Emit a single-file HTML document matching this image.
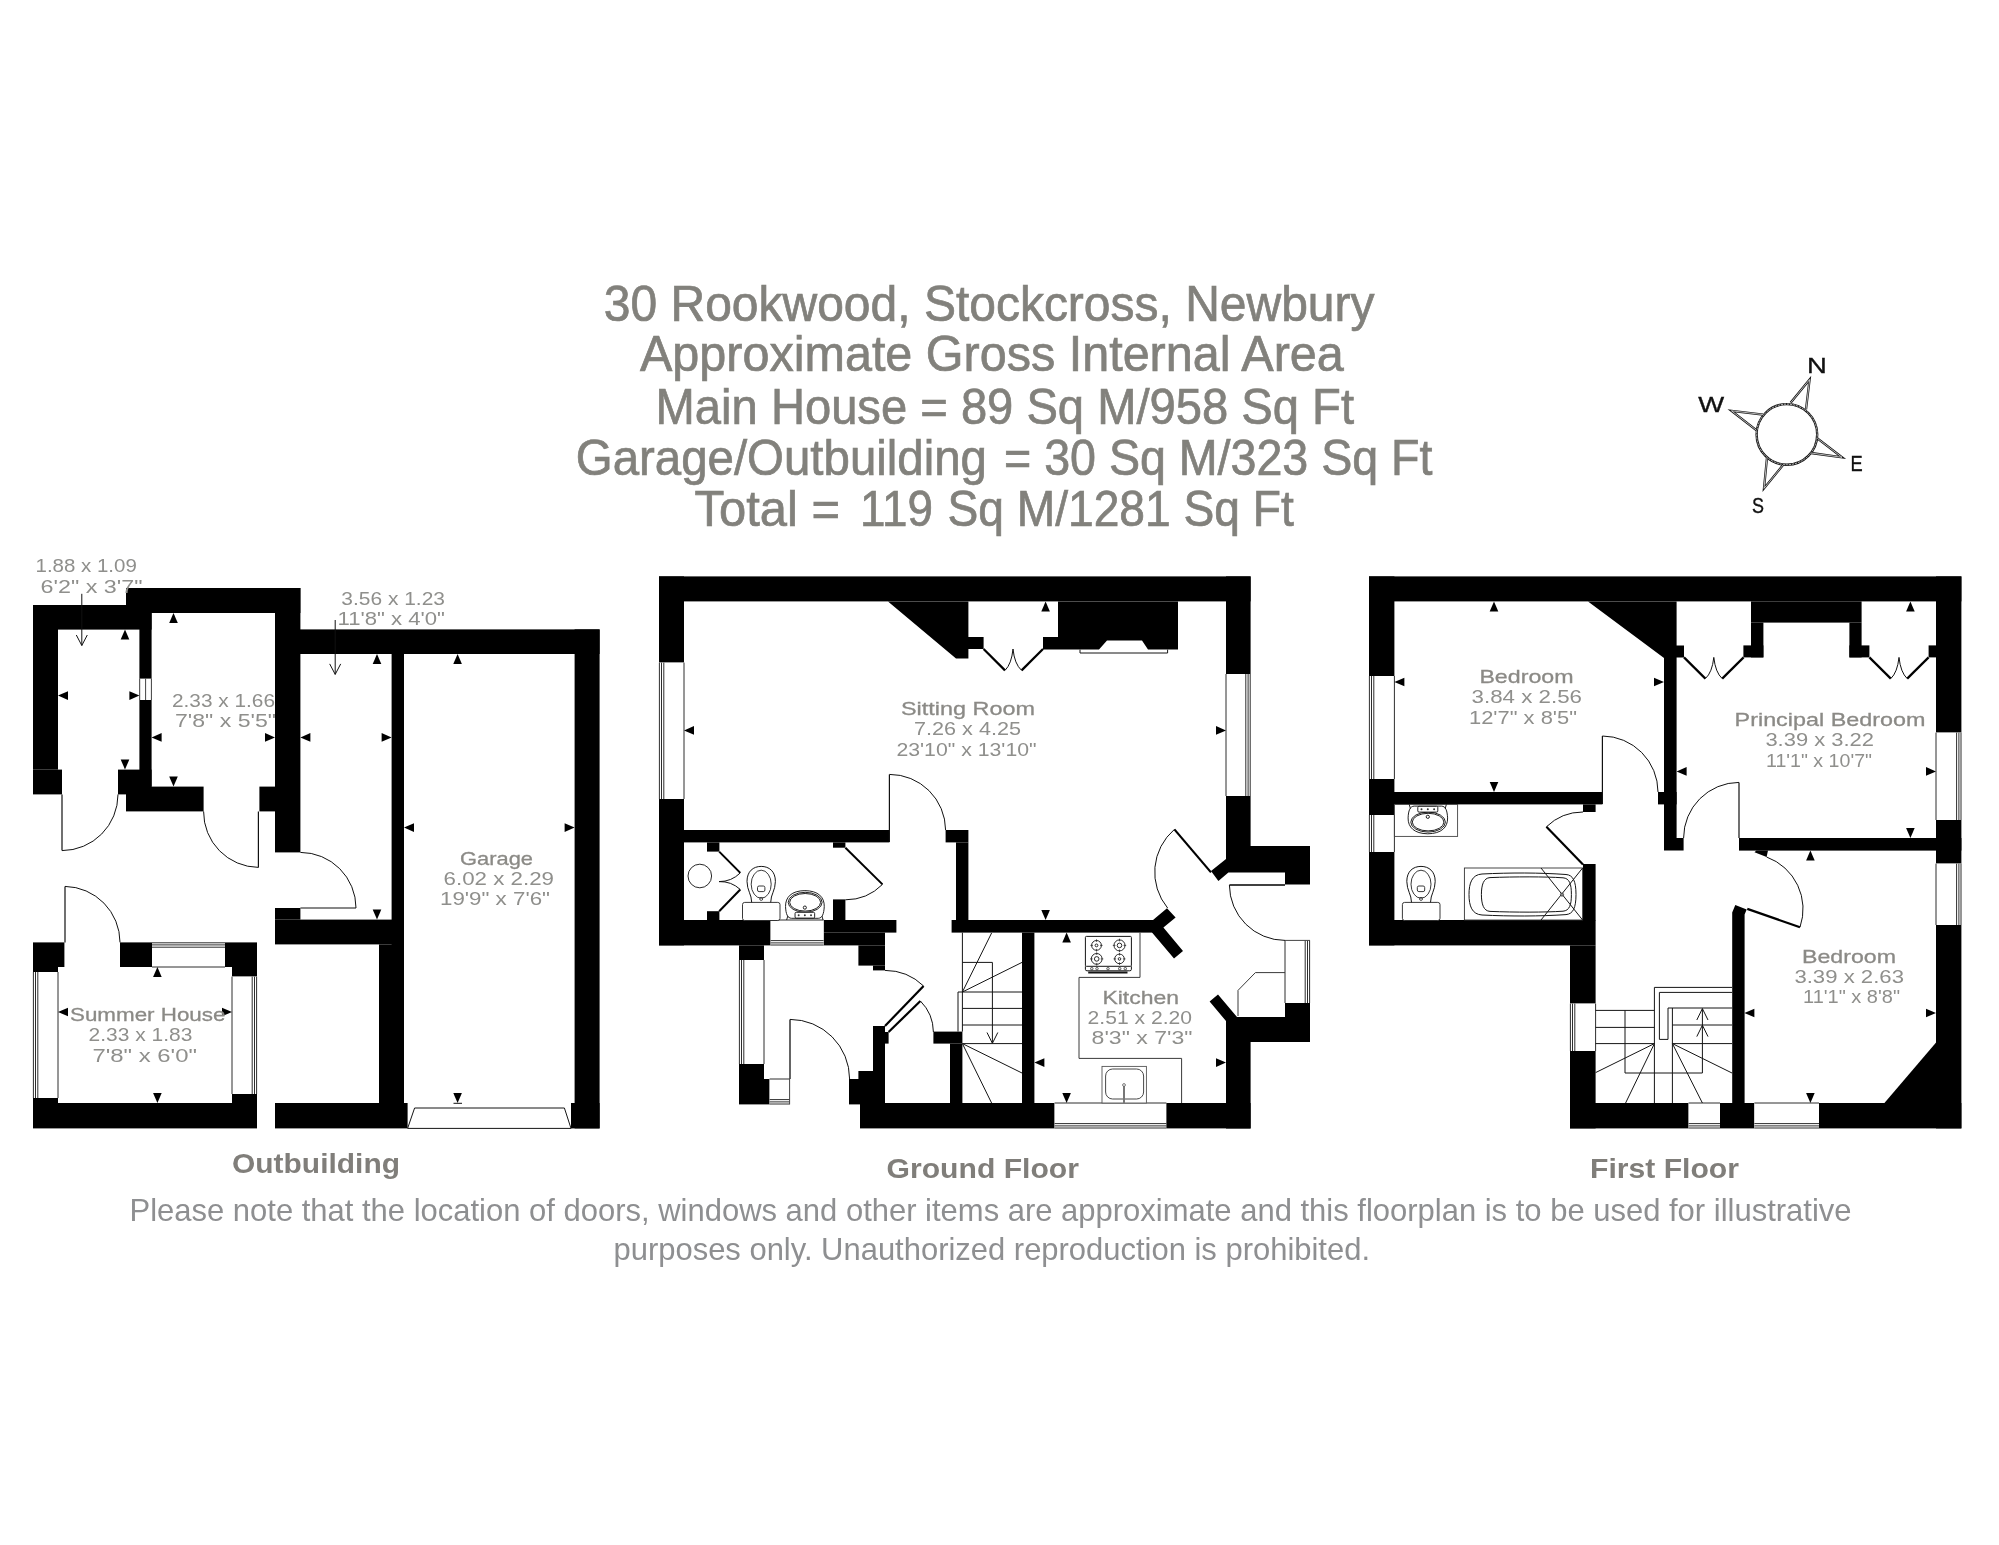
<!DOCTYPE html>
<html lang="en"><head><meta charset="utf-8"><title>30 Rookwood, Stockcross, Newbury - Floorplan</title>
<style>
html,body{margin:0;padding:0;background:#fff;}
body{width:1999px;height:1545px;overflow:hidden;}
svg{display:block;font-family:"Liberation Sans",sans-serif;will-change:transform;}
.t{font-size:49.5px;fill:#82817c;stroke:#82817c;stroke-width:0.7px;}
.lb{font-size:19px;fill:#8b8a86;stroke:#8b8a86;stroke-width:0.3px;}
.nm{font-size:18.4px;fill:#8f8f8c;}
.fl{font-size:27.6px;font-weight:bold;fill:#807e7a;}
.ft{font-size:31.4px;fill:#8e8f91;}
.cp{font-size:22.8px;fill:#111;stroke:#111;stroke-width:0.35px;}
</style></head><body>
<svg width="1999" height="1545" viewBox="0 0 1999 1545">
<rect x="0" y="0" width="1999" height="1545" fill="#fff"/>
<text x="603.8" y="321.3" textLength="770.7" lengthAdjust="spacingAndGlyphs" class="t">30 Rookwood, Stockcross, Newbury</text>
<text x="640.0" y="371.3" textLength="703.8" lengthAdjust="spacingAndGlyphs" class="t">Approximate Gross Internal Area</text>
<text x="655.6" y="423.8" textLength="698.4" lengthAdjust="spacingAndGlyphs" class="t">Main House = 89 Sq M/958 Sq Ft</text>
<text x="575.8" y="475.0" textLength="411.2" lengthAdjust="spacingAndGlyphs" class="t">Garage/Outbuilding</text>
<text x="1004.0" y="475.0" textLength="428.5" lengthAdjust="spacingAndGlyphs" class="t">= 30 Sq M/323 Sq Ft</text>
<text x="694.5" y="525.5" textLength="145.5" lengthAdjust="spacingAndGlyphs" class="t">Total =</text>
<text x="860.0" y="525.5" textLength="73.0" lengthAdjust="spacingAndGlyphs" class="t">119</text>
<text x="947.5" y="525.5" textLength="346.3" lengthAdjust="spacingAndGlyphs" class="t">Sq M/1281 Sq Ft</text>
<text x="232.0" y="1173.0" textLength="168.0" lengthAdjust="spacingAndGlyphs" class="fl">Outbuilding</text>
<text x="886.5" y="1177.5" textLength="192.5" lengthAdjust="spacingAndGlyphs" class="fl">Ground Floor</text>
<text x="1590.0" y="1177.5" textLength="149.0" lengthAdjust="spacingAndGlyphs" class="fl">First Floor</text>
<text x="129.5" y="1220.8" textLength="1722.0" lengthAdjust="spacingAndGlyphs" class="ft">Please note that the location of doors, windows and other items are approximate and this floorplan is to be used for illustrative</text>
<text x="613.5" y="1260.0" textLength="756.5" lengthAdjust="spacingAndGlyphs" class="ft">purposes only. Unauthorized reproduction is prohibited.</text>
<rect x="33.0" y="605.0" width="118.6" height="24.6" fill="#000"/>
<rect x="126.0" y="588.0" width="174.4" height="25.0" fill="#000"/>
<rect x="33.0" y="605.0" width="25.0" height="164.6" fill="#000"/>
<rect x="33.0" y="769.6" width="29.0" height="24.8" fill="#000"/>
<rect x="139.4" y="613.0" width="12.2" height="173.6" fill="#000"/>
<rect x="118.0" y="769.6" width="33.6" height="24.8" fill="#000"/>
<rect x="126.0" y="786.6" width="77.6" height="24.8" fill="#000"/>
<rect x="275.0" y="588.0" width="25.4" height="264.4" fill="#000"/>
<rect x="259.4" y="786.6" width="40.6" height="24.8" fill="#000"/>
<rect x="275.0" y="629.4" width="324.6" height="24.6" fill="#000"/>
<rect x="574.6" y="629.4" width="25.0" height="499.0" fill="#000"/>
<rect x="391.6" y="654.0" width="12.4" height="296.0" fill="#000"/>
<rect x="275.0" y="908.0" width="25.4" height="11.6" fill="#000"/>
<rect x="275.0" y="919.6" width="129.0" height="24.8" fill="#000"/>
<rect x="379.0" y="944.4" width="25.0" height="158.6" fill="#000"/>
<rect x="275.0" y="1103.0" width="132.6" height="25.4" fill="#000"/>
<rect x="571.0" y="1103.0" width="28.6" height="25.4" fill="#000"/>
<rect x="139.4" y="678.6" width="12.2" height="21.4" fill="#fff"/>
<line x1="139.7" y1="678.6" x2="139.7" y2="700.0" stroke="#444" stroke-width="1.0"/>
<line x1="145.6" y1="678.6" x2="145.6" y2="700.0" stroke="#444" stroke-width="1.0"/>
<line x1="151.4" y1="678.6" x2="151.4" y2="700.0" stroke="#444" stroke-width="1.0"/>
<path d="M407.6,1128.4 L414.6,1108 L564.4,1108 L571,1128.4 Z" fill="none" stroke="#151515" stroke-width="1.0" />
<path d="M62,794.4 L62,850.6" fill="none" stroke="#111" stroke-width="1.2" />
<path d="M62,850.6 A56.2,56.2 0 0 0 118,794.4" fill="none" stroke="#111" stroke-width="1.0" />
<path d="M258.4,811.4 L258.4,867.4" fill="none" stroke="#111" stroke-width="1.2" />
<path d="M258.4,867.4 A55.5,55.5 0 0 1 203.6,811.4" fill="none" stroke="#111" stroke-width="1.0" />
<path d="M300.4,908 L356,908" fill="none" stroke="#111" stroke-width="1.2" />
<path d="M300.4,852.4 A55.6,55.6 0 0 1 356,908" fill="none" stroke="#111" stroke-width="1.0" />
<rect x="33.0" y="942.4" width="31.4" height="24.6" fill="#000"/>
<rect x="33.0" y="967.0" width="25.0" height="5.0" fill="#000"/>
<rect x="120.0" y="942.4" width="32.0" height="24.6" fill="#000"/>
<rect x="225.0" y="942.4" width="32.0" height="24.6" fill="#000"/>
<rect x="232.0" y="967.0" width="25.0" height="9.6" fill="#000"/>
<rect x="33.0" y="1103.0" width="224.0" height="25.4" fill="#000"/>
<rect x="33.0" y="1098.0" width="25.0" height="5.0" fill="#000"/>
<rect x="232.0" y="1094.0" width="25.0" height="9.0" fill="#000"/>
<rect x="33.0" y="972.0" width="25.0" height="126.0" fill="#fff"/>
<line x1="33.4" y1="972.0" x2="33.4" y2="1098.0" stroke="#2e2e2e" stroke-width="1.0"/>
<line x1="35.5" y1="972.0" x2="35.5" y2="1098.0" stroke="#2e2e2e" stroke-width="1.0"/>
<line x1="37.8" y1="972.0" x2="37.8" y2="1098.0" stroke="#2e2e2e" stroke-width="1.0"/>
<line x1="58.0" y1="972.0" x2="58.0" y2="1098.0" stroke="#2e2e2e" stroke-width="1.0"/>
<rect x="232.0" y="976.6" width="25.0" height="117.4" fill="#fff"/>
<line x1="256.6" y1="976.6" x2="256.6" y2="1094.0" stroke="#2e2e2e" stroke-width="1.0"/>
<line x1="254.5" y1="976.6" x2="254.5" y2="1094.0" stroke="#2e2e2e" stroke-width="1.0"/>
<line x1="252.2" y1="976.6" x2="252.2" y2="1094.0" stroke="#2e2e2e" stroke-width="1.0"/>
<line x1="232.0" y1="976.6" x2="232.0" y2="1094.0" stroke="#2e2e2e" stroke-width="1.0"/>
<rect x="152.0" y="942.4" width="73.0" height="24.6" fill="#fff"/>
<line x1="152.0" y1="942.8" x2="225.0" y2="942.8" stroke="#2e2e2e" stroke-width="1.0"/>
<line x1="152.0" y1="944.9" x2="225.0" y2="944.9" stroke="#2e2e2e" stroke-width="1.0"/>
<line x1="152.0" y1="947.2" x2="225.0" y2="947.2" stroke="#2e2e2e" stroke-width="1.0"/>
<line x1="152.0" y1="967.0" x2="225.0" y2="967.0" stroke="#2e2e2e" stroke-width="1.0"/>
<path d="M65,942.4 L65,886.4" fill="none" stroke="#111" stroke-width="1.2" />
<path d="M65,886.4 A56,56 0 0 1 120,942.4" fill="none" stroke="#111" stroke-width="1.0" />
<line x1="81.8" y1="593.8" x2="81.8" y2="645.5" stroke="#111" stroke-width="1"/>
<path d="M76.3,635.0 L81.8,645.5 L87.3,635.0" fill="none" stroke="#111" stroke-width="1" />
<line x1="335.2" y1="620.0" x2="335.2" y2="674.4" stroke="#111" stroke-width="1"/>
<path d="M329.7,663.9 L335.2,674.4 L340.7,663.9" fill="none" stroke="#111" stroke-width="1" />
<polygon points="125.0,629.6 120.7,639.6 129.3,639.6" fill="#000"/>
<polygon points="58.0,695.6 68.0,691.3 68.0,699.9" fill="#000"/>
<polygon points="139.4,695.6 129.4,691.3 129.4,699.9" fill="#000"/>
<polygon points="125.0,769.6 120.7,759.6 129.3,759.6" fill="#000"/>
<polygon points="173.5,613.0 169.2,623.0 177.8,623.0" fill="#000"/>
<polygon points="173.5,786.6 169.2,776.6 177.8,776.6" fill="#000"/>
<polygon points="151.6,737.4 161.6,733.1 161.6,741.7" fill="#000"/>
<polygon points="275.0,737.4 265.0,733.1 265.0,741.7" fill="#000"/>
<polygon points="377.0,654.0 372.7,664.0 381.3,664.0" fill="#000"/>
<polygon points="300.4,737.4 310.4,733.1 310.4,741.7" fill="#000"/>
<polygon points="391.6,737.4 381.6,733.1 381.6,741.7" fill="#000"/>
<polygon points="377.0,919.6 372.7,909.6 381.3,909.6" fill="#000"/>
<polygon points="457.6,654.0 453.3,664.0 461.9,664.0" fill="#000"/>
<polygon points="404.0,827.6 414.0,823.3 414.0,831.9" fill="#000"/>
<polygon points="574.6,827.6 564.6,823.3 564.6,831.9" fill="#000"/>
<polygon points="457.6,1103.0 453.3,1093.0 461.9,1093.0" fill="#000"/>
<line x1="453.5" y1="1103.3" x2="462.0" y2="1103.3" stroke="#111" stroke-width="1.0"/>
<polygon points="157.4,967.0 153.1,977.0 161.7,977.0" fill="#000"/>
<polygon points="157.4,1103.0 153.1,1093.0 161.7,1093.0" fill="#000"/>
<polygon points="58.0,1012.0 68.0,1007.7 68.0,1016.3" fill="#000"/>
<polygon points="232.0,1012.0 222.0,1007.7 222.0,1016.3" fill="#000"/>
<text x="35.5" y="572.0" textLength="101.3" lengthAdjust="spacingAndGlyphs" class="nm">1.88 x 1.09</text>
<text x="40.5" y="592.5" textLength="102.0" lengthAdjust="spacingAndGlyphs" class="nm">6'2" x 3'7"</text>
<text x="341.3" y="604.5" textLength="103.7" lengthAdjust="spacingAndGlyphs" class="nm">3.56 x 1.23</text>
<text x="337.5" y="624.5" textLength="107.5" lengthAdjust="spacingAndGlyphs" class="nm">11'8" x 4'0"</text>
<text x="172.0" y="706.6" textLength="103.0" lengthAdjust="spacingAndGlyphs" class="nm">2.33 x 1.66</text>
<text x="175.0" y="726.6" textLength="101.0" lengthAdjust="spacingAndGlyphs" class="nm">7'8" x 5'5"</text>
<text x="70.0" y="1021.0" textLength="155.4" lengthAdjust="spacingAndGlyphs" class="lb">Summer House</text>
<text x="88.6" y="1041.0" textLength="103.8" lengthAdjust="spacingAndGlyphs" class="nm">2.33 x 1.83</text>
<text x="92.4" y="1061.6" textLength="104.6" lengthAdjust="spacingAndGlyphs" class="nm">7'8" x 6'0"</text>
<text x="460.0" y="865.0" textLength="73.0" lengthAdjust="spacingAndGlyphs" class="lb">Garage</text>
<text x="443.6" y="885.0" textLength="110.4" lengthAdjust="spacingAndGlyphs" class="nm">6.02 x 2.29</text>
<text x="440.0" y="905.0" textLength="110.0" lengthAdjust="spacingAndGlyphs" class="nm">19'9" x 7'6"</text>
<rect x="659.0" y="576.4" width="591.6" height="25.0" fill="#000"/>
<rect x="659.0" y="576.4" width="25.0" height="86.2" fill="#000"/>
<rect x="659.0" y="662.6" width="25.0" height="136.4" fill="#fff"/>
<line x1="659.4" y1="662.6" x2="659.4" y2="799.0" stroke="#2e2e2e" stroke-width="1.0"/>
<line x1="661.5" y1="662.6" x2="661.5" y2="799.0" stroke="#2e2e2e" stroke-width="1.0"/>
<line x1="663.8" y1="662.6" x2="663.8" y2="799.0" stroke="#2e2e2e" stroke-width="1.0"/>
<line x1="684.0" y1="662.6" x2="684.0" y2="799.0" stroke="#2e2e2e" stroke-width="1.0"/>
<rect x="659.0" y="799.0" width="25.0" height="146.4" fill="#000"/>
<polygon points="888.0,601.4 968.4,601.4 968.4,637.0 983.6,637.0 983.6,649.0 968.4,649.0 968.4,658.4 956.0,658.4" fill="#000"/>
<polygon points="1043.0,637.0 1058.0,637.0 1058.0,601.4 1178.0,601.4 1178.0,649.6 1148.0,649.6 1142.0,640.6 1107.0,640.6 1099.0,649.6 1043.0,649.6" fill="#000"/>
<path d="M1080,649.6 L1080,653 L1167.6,653 L1167.6,649.6" fill="none" stroke="#151515" stroke-width="1.0" />
<rect x="1226.0" y="576.4" width="24.6" height="97.6" fill="#000"/>
<rect x="1226.0" y="674.0" width="24.6" height="122.0" fill="#fff"/>
<line x1="1250.2" y1="674.0" x2="1250.2" y2="796.0" stroke="#2e2e2e" stroke-width="1.0"/>
<line x1="1248.1" y1="674.0" x2="1248.1" y2="796.0" stroke="#2e2e2e" stroke-width="1.0"/>
<line x1="1245.8" y1="674.0" x2="1245.8" y2="796.0" stroke="#2e2e2e" stroke-width="1.0"/>
<line x1="1226.0" y1="674.0" x2="1226.0" y2="796.0" stroke="#2e2e2e" stroke-width="1.0"/>
<rect x="1226.0" y="796.0" width="24.6" height="50.0" fill="#000"/>
<path d="M983.6,649 L1005,670.4" fill="none" stroke="#000" stroke-width="2.2" />
<path d="M1043,649 L1021.6,670.4" fill="none" stroke="#000" stroke-width="2.2" />
<path d="M1005,670.4 Q1011.5,664 1013,649 Q1014.5,664 1021.6,670.4" fill="none" stroke="#111" stroke-width="1.0" />
<rect x="659.0" y="830.0" width="230.4" height="12.4" fill="#000"/>
<rect x="945.6" y="830.0" width="22.8" height="12.4" fill="#000"/>
<rect x="956.0" y="842.4" width="12.4" height="78.1" fill="#000"/>
<path d="M889.4,842 L889.4,774.4" fill="none" stroke="#111" stroke-width="1.2" />
<path d="M889.4,774.4 A56,56 0 0 1 945.6,830" fill="none" stroke="#111" stroke-width="1.0" />
<rect x="659.0" y="920.0" width="111.6" height="25.4" fill="#000"/>
<rect x="823.6" y="920.0" width="72.8" height="12.6" fill="#000"/>
<rect x="823.6" y="932.6" width="61.4" height="12.8" fill="#000"/>
<rect x="770.6" y="920.0" width="53.0" height="25.4" fill="#fff"/>
<line x1="770.6" y1="945.0" x2="823.6" y2="945.0" stroke="#2e2e2e" stroke-width="1.0"/>
<line x1="770.6" y1="942.9" x2="823.6" y2="942.9" stroke="#2e2e2e" stroke-width="1.0"/>
<line x1="770.6" y1="940.6" x2="823.6" y2="940.6" stroke="#2e2e2e" stroke-width="1.0"/>
<line x1="770.6" y1="920.0" x2="823.6" y2="920.0" stroke="#2e2e2e" stroke-width="1.0"/>
<rect x="707.0" y="842.4" width="12.4" height="9.2" fill="#000"/>
<rect x="707.0" y="911.2" width="12.4" height="8.8" fill="#000"/>
<rect x="833.0" y="842.4" width="12.4" height="5.3" fill="#000"/>
<rect x="833.0" y="899.4" width="12.4" height="20.6" fill="#000"/>
<path d="M719.2,851.6 L740.3,872.9" fill="none" stroke="#000" stroke-width="2" />
<path d="M719.2,911.2 L740.3,889.5" fill="none" stroke="#000" stroke-width="2" />
<path d="M740.3,872.9 A30,30 0 0 1 719,881.6 A30,30 0 0 1 740.3,889.5" fill="none" stroke="#111" stroke-width="1.0" />
<circle cx="699.8" cy="876" r="11.8" fill="none" stroke="#111" stroke-width="0.9"/>
<path d="M845.4,847.7 L882.5,884.4" fill="none" stroke="#000" stroke-width="2" />
<path d="M882.5,884.4 A52.2,52.2 0 0 1 845.4,899.8" fill="none" stroke="#111" stroke-width="1.0" />
<rect x="742.5" y="902.4" width="37.5" height="18.100000000000023" rx="2.2" fill="#fff" stroke="#222" stroke-width="0.9"/>
<path d="M751.7,902.4 C751.7,894.4 747.0,890.4 747.0,881.4 C747.0,871.4 753.2,866.4 761.2,866.4 C769.2,866.4 775.4000000000001,871.4 775.4000000000001,881.4 C775.4000000000001,890.4 770.7,894.4 770.7,902.4" fill="none" stroke="#151515" stroke-width="1.0" />
<ellipse cx="761.2" cy="884.1999999999999" rx="10" ry="14" fill="none" stroke="#222" stroke-width="0.9"/>
<rect x="757.5" y="886.0" width="7.4" height="5.6" rx="1.6" fill="none" stroke="#222" stroke-width="0.9"/>
<circle cx="761.2" cy="898.9" r="1.5" fill="none" stroke="#222" stroke-width="0.8"/>
<g transform="translate(804.85,920) scale(0.98,-1)">
<path d="M-13.6,1.7 C-17.8,1.9 -19.4,6.1 -19.7,13.5 C-19.9,22.9 -13.6,29.2 0,29.4 C13.7,29.2 20,22.9 19.8,13.5 C19.4,6.1 17.9,1.9 13.7,1.7 Z" stroke="#151515" stroke-width="0.95" fill="none" vector-effect="non-scaling-stroke" style="fill:#fff"/>
<path d="M-18.6,0 L-17.4,4 M18.6,0 L17.4,4" stroke="#151515" stroke-width="0.95" fill="none" vector-effect="non-scaling-stroke"/>
<ellipse cx="0.3" cy="17.7" rx="17.3" ry="10" stroke="#151515" stroke-width="0.95" fill="none" vector-effect="non-scaling-stroke"/>
<ellipse cx="0.3" cy="17.7" rx="15.8" ry="8.8" stroke="#151515" stroke-width="0.95" fill="none" vector-effect="non-scaling-stroke"/>
<rect x="-10" y="1.9" width="20" height="5.8" rx="1.2" stroke="#151515" stroke-width="0.95" fill="none" vector-effect="non-scaling-stroke" style="fill:#fff"/>
<circle cx="-6.3" cy="4.8" r="1" fill="#333"/>
<circle cx="0" cy="4.8" r="1" fill="#333"/>
<circle cx="6.3" cy="4.8" r="1" fill="#333"/>
<circle cx="0" cy="12.4" r="1.6" stroke="#151515" stroke-width="0.95" fill="none" vector-effect="non-scaling-stroke" style="fill:#fff"/>
</g>
<rect x="739.0" y="945.4" width="25.0" height="14.6" fill="#000"/>
<rect x="739.0" y="960.0" width="25.0" height="104.0" fill="#fff"/>
<line x1="739.4" y1="960.0" x2="739.4" y2="1064.0" stroke="#2e2e2e" stroke-width="1.0"/>
<line x1="741.5" y1="960.0" x2="741.5" y2="1064.0" stroke="#2e2e2e" stroke-width="1.0"/>
<line x1="743.8" y1="960.0" x2="743.8" y2="1064.0" stroke="#2e2e2e" stroke-width="1.0"/>
<line x1="764.0" y1="960.0" x2="764.0" y2="1064.0" stroke="#2e2e2e" stroke-width="1.0"/>
<rect x="739.0" y="1064.0" width="25.0" height="15.0" fill="#000"/>
<rect x="739.0" y="1079.0" width="30.6" height="25.4" fill="#000"/>
<rect x="769.6" y="1079.0" width="20.0" height="25.4" fill="#fff"/>
<line x1="769.6" y1="1104.0" x2="789.6" y2="1104.0" stroke="#2e2e2e" stroke-width="1.0"/>
<line x1="769.6" y1="1101.9" x2="789.6" y2="1101.9" stroke="#2e2e2e" stroke-width="1.0"/>
<line x1="769.6" y1="1099.6" x2="789.6" y2="1099.6" stroke="#2e2e2e" stroke-width="1.0"/>
<line x1="769.6" y1="1079.0" x2="789.6" y2="1079.0" stroke="#2e2e2e" stroke-width="1.0"/>
<line x1="789.6" y1="1079.0" x2="789.6" y2="1104.4" stroke="#444" stroke-width="1.0"/>
<rect x="849.0" y="1079.0" width="36.0" height="25.4" fill="#000"/>
<rect x="858.4" y="1071.0" width="26.6" height="8.5" fill="#000"/>
<rect x="873.0" y="1026.0" width="12.0" height="45.5" fill="#000"/>
<rect x="873.0" y="1032.0" width="15.6" height="11.6" fill="#000"/>
<rect x="858.4" y="945.4" width="26.6" height="20.2" fill="#000"/>
<rect x="873.0" y="965.6" width="12.0" height="4.8" fill="#000"/>
<path d="M790,1079 L790,1019.4" fill="none" stroke="#111" stroke-width="1.3" />
<path d="M790,1019.4 A59.6,59.6 0 0 1 849.6,1079" fill="none" stroke="#111" stroke-width="1.0" />
<path d="M885,1026 L923.6,986" fill="none" stroke="#000" stroke-width="2.2" />
<path d="M885,970.4 A55.6,55.6 0 0 1 923.6,986" fill="none" stroke="#111" stroke-width="1.0" />
<path d="M888.6,1032 L920.4,1001" fill="none" stroke="#000" stroke-width="2.2" />
<path d="M920.4,1001 A44.6,44.6 0 0 1 933.4,1032" fill="none" stroke="#111" stroke-width="1.0" />
<rect x="933.4" y="1031.6" width="29.0" height="12.0" fill="#000"/>
<rect x="950.0" y="1043.6" width="12.4" height="59.9" fill="#000"/>
<rect x="860.0" y="1103.0" width="194.6" height="25.4" fill="#000"/>
<rect x="1054.6" y="1103.0" width="111.8" height="25.4" fill="#fff"/>
<line x1="1054.6" y1="1128.0" x2="1166.4" y2="1128.0" stroke="#2e2e2e" stroke-width="1.0"/>
<line x1="1054.6" y1="1125.9" x2="1166.4" y2="1125.9" stroke="#2e2e2e" stroke-width="1.0"/>
<line x1="1054.6" y1="1123.6" x2="1166.4" y2="1123.6" stroke="#2e2e2e" stroke-width="1.0"/>
<line x1="1054.6" y1="1103.0" x2="1166.4" y2="1103.0" stroke="#2e2e2e" stroke-width="1.0"/>
<rect x="1166.4" y="1103.0" width="84.2" height="25.4" fill="#000"/>
<rect x="951.6" y="920.0" width="204.4" height="12.6" fill="#000"/>
<polygon points="1153.0,920.0 1167.0,908.2 1175.6,917.4 1163.4,927.6 1183.0,951.0 1174.0,958.4 1152.0,932.6" fill="#000"/>
<rect x="1022.0" y="932.6" width="12.4" height="170.9" fill="#000"/>
<polygon points="1226.0,846.0 1310.0,846.0 1310.0,884.4 1285.0,884.4 1285.0,872.4 1228.4,872.4 1218.4,881.0 1211.0,871.0 1226.0,859.0" fill="#000"/>
<polygon points="1209.6,1001.6 1218.0,994.4 1237.0,1017.0 1285.0,1017.0 1285.0,1003.0 1310.0,1003.0 1310.0,1042.0 1250.6,1042.0 1250.6,1128.4 1226.0,1128.4 1226.0,1021.0" fill="#000"/>
<rect x="1285.0" y="940.4" width="25.0" height="62.6" fill="#fff"/>
<line x1="1309.6" y1="940.4" x2="1309.6" y2="1003.0" stroke="#2e2e2e" stroke-width="1.0"/>
<line x1="1307.5" y1="940.4" x2="1307.5" y2="1003.0" stroke="#2e2e2e" stroke-width="1.0"/>
<line x1="1305.2" y1="940.4" x2="1305.2" y2="1003.0" stroke="#2e2e2e" stroke-width="1.0"/>
<line x1="1285.0" y1="940.4" x2="1285.0" y2="1003.0" stroke="#2e2e2e" stroke-width="1.0"/>
<line x1="1285.0" y1="940.4" x2="1310.0" y2="940.4" stroke="#444" stroke-width="1.0"/>
<path d="M1211,872.4 L1174.4,829.4" fill="none" stroke="#000" stroke-width="2.2" />
<path d="M1174.4,829.4 A56.3,56.3 0 0 0 1167.6,908" fill="none" stroke="#111" stroke-width="1.0" />
<path d="M1229.4,885 L1285,885" fill="none" stroke="#000" stroke-width="1.6" />
<path d="M1229.4,885 A55.6,55.6 0 0 0 1285,940.4" fill="none" stroke="#111" stroke-width="1.0" />
<path d="M1238,1016 L1238,990.4 L1255.4,972.6 L1285,972.6" fill="none" stroke="#3a3a3a" stroke-width="1.0" />
<path d="M962.4,932.6 L962.4,992 M958,992 L1022,992 M958,992 L958,1031.6 M962.4,992 L962.4,1031.6 M962.4,1008.4 L1022,1008.4 M962.4,1025 L1022,1025 M962.4,1043.6 L1022,1043.6" fill="none" stroke="#151515" stroke-width="1.0" />
<path d="M962.4,992 L991.6,933 M962.4,992 L1022,962.4 M962.4,1043.6 L1022,1073 M962.4,1043.6 L991.6,1103" fill="none" stroke="#151515" stroke-width="1.0" />
<path d="M962.4,962.4 L992.4,962.4 L992.4,1043" fill="none" stroke="#151515" stroke-width="1.0" />
<path d="M987,1032.5 L992.4,1043.3 L997.8,1032.5" fill="none" stroke="#151515" stroke-width="1.0" />
<path d="M1140,932.6 L1140,977.4 L1079,977.4 L1079,1058.4 L1181.6,1058.4 L1181.6,1103" fill="none" stroke="#3a3a3a" stroke-width="1.0" />
<rect x="1085.4" y="936.4" width="46" height="29.9" rx="1" fill="#fff" stroke="#151515" stroke-width="1"/>
<path d="M1085.4,966.3 L1085.4,969.3 Q1085.4,970.8 1087,970.8 L1129.8,970.8 Q1131.4,970.8 1131.4,969.3 L1131.4,966.3" fill="none" stroke="#151515" stroke-width="1" />
<line x1="1088.2" y1="972.5" x2="1127.5" y2="972.5" stroke="#151515" stroke-width="1.9"/>
<circle cx="1096.5" cy="945.4" r="4.9" fill="none" stroke="#151515" stroke-width="0.9"/>
<circle cx="1096.5" cy="945.4" r="1.4" fill="none" stroke="#151515" stroke-width="0.9"/>
<path d="M1090.3999999999999,945.4 L1093.0,945.4 M1100.0,945.4 L1102.6000000000001,945.4 M1096.5,939.3 L1096.5,941.9 M1096.5,948.9 L1096.5,951.5" fill="none" stroke="#151515" stroke-width="0.7" />
<circle cx="1119.5" cy="945.4" r="5.5" fill="none" stroke="#151515" stroke-width="0.9"/>
<circle cx="1119.5" cy="945.4" r="2.3" fill="none" stroke="#151515" stroke-width="0.9"/>
<path d="M1112.8,945.4 L1115.4,945.4 M1123.6,945.4 L1126.2,945.4 M1119.5,938.6999999999999 L1119.5,941.3 M1119.5,949.5 L1119.5,952.1" fill="none" stroke="#151515" stroke-width="0.7" />
<circle cx="1096.7" cy="958.9" r="5.4" fill="none" stroke="#151515" stroke-width="0.9"/>
<circle cx="1096.7" cy="958.9" r="2.3" fill="none" stroke="#151515" stroke-width="0.9"/>
<path d="M1090.1,958.9 L1092.7,958.9 M1100.7,958.9 L1103.3000000000002,958.9 M1096.7,952.3 L1096.7,954.9 M1096.7,962.9 L1096.7,965.5" fill="none" stroke="#151515" stroke-width="0.7" />
<circle cx="1119.5" cy="958.9" r="4.8" fill="none" stroke="#151515" stroke-width="0.9"/>
<circle cx="1119.5" cy="958.9" r="1.3" fill="none" stroke="#151515" stroke-width="0.9"/>
<path d="M1113.5,958.9 L1116.1000000000001,958.9 M1122.8999999999999,958.9 L1125.5,958.9 M1119.5,952.9 L1119.5,955.5 M1119.5,962.3 L1119.5,964.9" fill="none" stroke="#151515" stroke-width="0.7" />
<rect x="1090.6" y="967.6" width="2.4" height="2.1" rx="0.7" fill="none" stroke="#151515" stroke-width="0.7"/>
<rect x="1095.8" y="967.6" width="2.4" height="2.1" rx="0.7" fill="none" stroke="#151515" stroke-width="0.7"/>
<rect x="1106.8" y="967.6" width="2.4" height="2.1" rx="0.7" fill="none" stroke="#151515" stroke-width="0.7"/>
<rect x="1118.5" y="967.6" width="2.4" height="2.1" rx="0.7" fill="none" stroke="#151515" stroke-width="0.7"/>
<rect x="1124.1" y="967.6" width="2.4" height="2.1" rx="0.7" fill="none" stroke="#151515" stroke-width="0.7"/>
<rect x="1102" y="1066.4" width="44.4" height="36.6" fill="#fff" stroke="#555" stroke-width="0.9"/>
<rect x="1105.6" y="1069" width="38" height="30" rx="7" fill="none" stroke="#333" stroke-width="0.9"/>
<path d="M1124,1085 L1124,1103" fill="none" stroke="#777" stroke-width="2" />
<circle cx="1124" cy="1085" r="1.4" fill="#fff" stroke="#444" stroke-width="0.7"/>
<polygon points="684.0,730.4 694.0,726.1 694.0,734.7" fill="#000"/>
<polygon points="1226.0,730.4 1216.0,726.1 1216.0,734.7" fill="#000"/>
<polygon points="1045.6,601.4 1041.3,611.4 1049.9,611.4" fill="#000"/>
<polygon points="1045.6,920.0 1041.3,910.0 1049.9,910.0" fill="#000"/>
<polygon points="1066.6,932.6 1062.3,942.6 1070.9,942.6" fill="#000"/>
<polygon points="1066.6,1103.0 1062.3,1093.0 1070.9,1093.0" fill="#000"/>
<polygon points="1034.4,1062.6 1044.4,1058.3 1044.4,1066.9" fill="#000"/>
<polygon points="1226.0,1062.6 1216.0,1058.3 1216.0,1066.9" fill="#000"/>
<text x="901.0" y="714.6" textLength="134.0" lengthAdjust="spacingAndGlyphs" class="lb">Sitting Room</text>
<text x="914.0" y="734.6" textLength="107.0" lengthAdjust="spacingAndGlyphs" class="nm">7.26 x 4.25</text>
<text x="896.4" y="755.6" textLength="140.2" lengthAdjust="spacingAndGlyphs" class="nm">23'10" x 13'10"</text>
<text x="1102.4" y="1004.0" textLength="76.6" lengthAdjust="spacingAndGlyphs" class="lb">Kitchen</text>
<text x="1087.6" y="1024.0" textLength="104.4" lengthAdjust="spacingAndGlyphs" class="nm">2.51 x 2.20</text>
<text x="1091.6" y="1044.0" textLength="100.8" lengthAdjust="spacingAndGlyphs" class="nm">8'3" x 7'3"</text>
<rect x="1369.0" y="576.4" width="592.4" height="25.0" fill="#000"/>
<rect x="1369.0" y="576.4" width="25.4" height="99.6" fill="#000"/>
<rect x="1369.0" y="676.0" width="25.4" height="103.0" fill="#fff"/>
<line x1="1369.4" y1="676.0" x2="1369.4" y2="779.0" stroke="#2e2e2e" stroke-width="1.0"/>
<line x1="1371.5" y1="676.0" x2="1371.5" y2="779.0" stroke="#2e2e2e" stroke-width="1.0"/>
<line x1="1373.8" y1="676.0" x2="1373.8" y2="779.0" stroke="#2e2e2e" stroke-width="1.0"/>
<line x1="1394.4" y1="676.0" x2="1394.4" y2="779.0" stroke="#2e2e2e" stroke-width="1.0"/>
<rect x="1369.0" y="779.0" width="25.4" height="36.0" fill="#000"/>
<rect x="1369.0" y="815.0" width="25.4" height="37.0" fill="#fff"/>
<line x1="1369.4" y1="815.0" x2="1369.4" y2="852.0" stroke="#2e2e2e" stroke-width="1.0"/>
<line x1="1371.5" y1="815.0" x2="1371.5" y2="852.0" stroke="#2e2e2e" stroke-width="1.0"/>
<line x1="1373.8" y1="815.0" x2="1373.8" y2="852.0" stroke="#2e2e2e" stroke-width="1.0"/>
<line x1="1394.4" y1="815.0" x2="1394.4" y2="852.0" stroke="#2e2e2e" stroke-width="1.0"/>
<rect x="1369.0" y="852.0" width="25.4" height="93.4" fill="#000"/>
<rect x="1369.0" y="792.0" width="233.4" height="12.4" fill="#000"/>
<rect x="1658.0" y="792.0" width="18.6" height="12.4" fill="#000"/>
<polygon points="1588.0,601.4 1676.6,601.4 1676.6,645.4 1684.0,645.4 1684.0,657.4 1676.6,657.4 1676.6,838.0 1683.6,838.0 1683.6,850.6 1664.0,850.6 1664.0,658.0" fill="#000"/>
<rect x="1751.0" y="601.4" width="110.6" height="21.2" fill="#000"/>
<rect x="1751.0" y="622.6" width="12.4" height="34.8" fill="#000"/>
<rect x="1743.4" y="645.4" width="20.0" height="12.0" fill="#000"/>
<rect x="1849.4" y="622.6" width="12.2" height="34.8" fill="#000"/>
<rect x="1849.4" y="645.4" width="20.0" height="12.0" fill="#000"/>
<rect x="1928.6" y="645.4" width="7.9" height="12.0" fill="#000"/>
<rect x="1936.0" y="576.4" width="25.4" height="156.2" fill="#000"/>
<rect x="1936.0" y="732.6" width="25.4" height="87.4" fill="#fff"/>
<line x1="1961.0" y1="732.6" x2="1961.0" y2="820.0" stroke="#2e2e2e" stroke-width="1.0"/>
<line x1="1958.9" y1="732.6" x2="1958.9" y2="820.0" stroke="#2e2e2e" stroke-width="1.0"/>
<line x1="1956.6" y1="732.6" x2="1956.6" y2="820.0" stroke="#2e2e2e" stroke-width="1.0"/>
<line x1="1936.0" y1="732.6" x2="1936.0" y2="820.0" stroke="#2e2e2e" stroke-width="1.0"/>
<rect x="1936.0" y="820.0" width="25.4" height="43.6" fill="#000"/>
<rect x="1936.0" y="863.6" width="25.4" height="61.4" fill="#fff"/>
<line x1="1961.0" y1="863.6" x2="1961.0" y2="925.0" stroke="#2e2e2e" stroke-width="1.0"/>
<line x1="1958.9" y1="863.6" x2="1958.9" y2="925.0" stroke="#2e2e2e" stroke-width="1.0"/>
<line x1="1956.6" y1="863.6" x2="1956.6" y2="925.0" stroke="#2e2e2e" stroke-width="1.0"/>
<line x1="1936.0" y1="863.6" x2="1936.0" y2="925.0" stroke="#2e2e2e" stroke-width="1.0"/>
<rect x="1936.0" y="925.0" width="25.4" height="203.4" fill="#000"/>
<rect x="1739.0" y="838.0" width="222.4" height="12.6" fill="#000"/>
<rect x="1369.0" y="920.0" width="226.6" height="25.4" fill="#000"/>
<rect x="1583.0" y="864.0" width="12.6" height="56.5" fill="#000"/>
<rect x="1583.0" y="804.4" width="12.6" height="7.6" fill="#000"/>
<rect x="1570.0" y="945.4" width="25.6" height="58.2" fill="#000"/>
<rect x="1570.0" y="1003.6" width="25.6" height="47.4" fill="#fff"/>
<line x1="1570.4" y1="1003.6" x2="1570.4" y2="1051.0" stroke="#2e2e2e" stroke-width="1.0"/>
<line x1="1572.5" y1="1003.6" x2="1572.5" y2="1051.0" stroke="#2e2e2e" stroke-width="1.0"/>
<line x1="1574.8" y1="1003.6" x2="1574.8" y2="1051.0" stroke="#2e2e2e" stroke-width="1.0"/>
<line x1="1595.6" y1="1003.6" x2="1595.6" y2="1051.0" stroke="#2e2e2e" stroke-width="1.0"/>
<rect x="1570.0" y="1051.0" width="25.6" height="77.4" fill="#000"/>
<rect x="1570.0" y="1103.0" width="118.6" height="25.4" fill="#000"/>
<rect x="1688.6" y="1103.0" width="31.4" height="25.4" fill="#fff"/>
<line x1="1688.6" y1="1128.0" x2="1720.0" y2="1128.0" stroke="#2e2e2e" stroke-width="1.0"/>
<line x1="1688.6" y1="1125.9" x2="1720.0" y2="1125.9" stroke="#2e2e2e" stroke-width="1.0"/>
<line x1="1688.6" y1="1123.6" x2="1720.0" y2="1123.6" stroke="#2e2e2e" stroke-width="1.0"/>
<line x1="1688.6" y1="1103.0" x2="1720.0" y2="1103.0" stroke="#2e2e2e" stroke-width="1.0"/>
<rect x="1720.0" y="1103.0" width="34.4" height="25.4" fill="#000"/>
<rect x="1754.4" y="1103.0" width="64.6" height="25.4" fill="#fff"/>
<line x1="1754.4" y1="1128.0" x2="1819.0" y2="1128.0" stroke="#2e2e2e" stroke-width="1.0"/>
<line x1="1754.4" y1="1125.9" x2="1819.0" y2="1125.9" stroke="#2e2e2e" stroke-width="1.0"/>
<line x1="1754.4" y1="1123.6" x2="1819.0" y2="1123.6" stroke="#2e2e2e" stroke-width="1.0"/>
<line x1="1754.4" y1="1103.0" x2="1819.0" y2="1103.0" stroke="#2e2e2e" stroke-width="1.0"/>
<rect x="1819.0" y="1103.0" width="142.4" height="25.4" fill="#000"/>
<polygon points="1732.2,912.6 1735.3,905.1 1746.7,909.6 1744.6,914.5 1744.6,1103.5 1732.2,1103.5" fill="#000"/>
<polygon points="1936.5,1042.0 1884.0,1103.5 1936.5,1103.5" fill="#000"/>
<polygon points="1754.5,852.3 1756.3,850.4 1768.0,850.4 1766.6,857.0" fill="#000"/>
<path d="M1684,657.4 L1705.4,678.6" fill="none" stroke="#000" stroke-width="2.2" />
<path d="M1743.6,657.4 L1722.1999999999998,678.6" fill="none" stroke="#000" stroke-width="2.2" />
<path d="M1705.4,678.6 Q1712.2,672.4 1713.8,657.4 Q1715.3999999999999,672.4 1722.1999999999998,678.6" fill="none" stroke="#111" stroke-width="1.0" />
<path d="M1869.4,657.4 L1890.8000000000002,678.6" fill="none" stroke="#000" stroke-width="2.2" />
<path d="M1928.6,657.4 L1907.1999999999998,678.6" fill="none" stroke="#000" stroke-width="2.2" />
<path d="M1890.8000000000002,678.6 Q1897.4,672.4 1899.0,657.4 Q1900.6,672.4 1907.1999999999998,678.6" fill="none" stroke="#111" stroke-width="1.0" />
<path d="M1602.4,804 L1602.4,736" fill="none" stroke="#111" stroke-width="1.2" />
<path d="M1602.4,736 A56,56 0 0 1 1658,792" fill="none" stroke="#111" stroke-width="1.0" />
<path d="M1739,838 L1739,782.4" fill="none" stroke="#111" stroke-width="1.2" />
<path d="M1739,782.4 A55.6,55.6 0 0 0 1683.6,838" fill="none" stroke="#111" stroke-width="1.0" />
<path d="M1583,864.4 L1546.4,826.8" fill="none" stroke="#000" stroke-width="2.2" />
<path d="M1546.4,826.8 A52.5,52.5 0 0 1 1583,812" fill="none" stroke="#111" stroke-width="1.0" />
<path d="M1747.3,908.9 L1800,927.2" fill="none" stroke="#000" stroke-width="2.2" />
<path d="M1766.6,857 A55.4,55.4 0 0 1 1800,927.2" fill="none" stroke="#111" stroke-width="1.0" />
<rect x="1394.4" y="804.4" width="63.2" height="32" fill="none" stroke="#444" stroke-width="0.9"/>
<g transform="translate(1427.8,804.4) scale(1,1)">
<path d="M-13.6,1.7 C-17.8,1.9 -19.4,6.1 -19.7,13.5 C-19.9,22.9 -13.6,29.2 0,29.4 C13.7,29.2 20,22.9 19.8,13.5 C19.4,6.1 17.9,1.9 13.7,1.7 Z" stroke="#151515" stroke-width="0.95" fill="none" vector-effect="non-scaling-stroke" style="fill:#fff"/>
<path d="M-18.6,0 L-17.4,4 M18.6,0 L17.4,4" stroke="#151515" stroke-width="0.95" fill="none" vector-effect="non-scaling-stroke"/>
<ellipse cx="0.3" cy="17.7" rx="17.3" ry="10" stroke="#151515" stroke-width="0.95" fill="none" vector-effect="non-scaling-stroke"/>
<ellipse cx="0.3" cy="17.7" rx="15.8" ry="8.8" stroke="#151515" stroke-width="0.95" fill="none" vector-effect="non-scaling-stroke"/>
<rect x="-10" y="1.9" width="20" height="5.8" rx="1.2" stroke="#151515" stroke-width="0.95" fill="none" vector-effect="non-scaling-stroke" style="fill:#fff"/>
<circle cx="-6.3" cy="4.8" r="1" fill="#333"/>
<circle cx="0" cy="4.8" r="1" fill="#333"/>
<circle cx="6.3" cy="4.8" r="1" fill="#333"/>
<circle cx="0" cy="12.4" r="1.6" stroke="#151515" stroke-width="0.95" fill="none" vector-effect="non-scaling-stroke" style="fill:#fff"/>
</g>
<rect x="1402.4" y="902.4" width="37.59999999999991" height="18.100000000000023" rx="2.2" fill="#fff" stroke="#222" stroke-width="0.9"/>
<path d="M1411.5,902.4 C1411.5,894.4 1406.8,890.4 1406.8,881.4 C1406.8,871.4 1413,866.4 1421,866.4 C1429,866.4 1435.2,871.4 1435.2,881.4 C1435.2,890.4 1430.5,894.4 1430.5,902.4" fill="none" stroke="#151515" stroke-width="1.0" />
<ellipse cx="1421" cy="884.1999999999999" rx="10" ry="14" fill="none" stroke="#222" stroke-width="0.9"/>
<rect x="1417.3" y="886.0" width="7.4" height="5.6" rx="1.6" fill="none" stroke="#222" stroke-width="0.9"/>
<circle cx="1421" cy="898.9" r="1.5" fill="none" stroke="#222" stroke-width="0.8"/>
<rect x="1464.4" y="868" width="118.2" height="52" fill="none" stroke="#333" stroke-width="0.9"/>
<path d="M1482,874 C1510,872.6 1540,872.6 1566,874.5 C1573,875 1576,881 1576,894.5 C1576,908 1573,914 1566,914.6 C1540,916.4 1510,916.4 1482,915 C1472,914.4 1469,906 1469,894.5 C1469,883 1472,874.6 1482,874 Z" fill="none" stroke="#151515" stroke-width="1.0" />
<path d="M1490,877.6 C1515,876.6 1545,876.6 1563,877.8 C1569.5,878.3 1571.4,884 1571.4,894.5 C1571.4,905 1569.5,910.6 1563,911.2 C1545,912.4 1515,912.4 1490,911.4 C1483.5,911 1481.4,904 1481.4,894.5 C1481.4,885 1483.5,878 1490,877.6 Z" fill="none" stroke="#151515" stroke-width="1.0" />
<path d="M1541,868 L1582.6,920 M1541,920 L1582.6,868" fill="none" stroke="#151515" stroke-width="1.0" />
<circle cx="1562" cy="894.6" r="1.6" fill="#888" stroke="#333" stroke-width="0.7"/>
<path d="M1654.4,987.4 L1732,987.4 M1654.4,987.4 L1654.4,1103 M1659.4,992.4 L1732,992.4 M1659.4,992.4 L1659.4,1039.4 L1668,1039.4 L1668,1008 L1732,1008 M1672.4,1008 L1672.4,1103" fill="none" stroke="#151515" stroke-width="1.0" />
<path d="M1595.6,1010.4 L1654.4,1010.4 M1595.6,1027.4 L1654.4,1027.4 M1595.6,1043.6 L1654.4,1043.6 M1672.4,1025 L1732,1025 M1672.4,1043.6 L1732,1043.6" fill="none" stroke="#151515" stroke-width="1.0" />
<path d="M1654.4,1043.6 L1595.6,1072.6 M1654.4,1043.6 L1625.6,1103 M1672.4,1043.6 L1732,1073 M1672.4,1043.6 L1702.4,1103" fill="none" stroke="#151515" stroke-width="1.0" />
<path d="M1625,1010.4 L1625,1073 L1702.4,1073 L1702.4,1008.6" fill="none" stroke="#151515" stroke-width="1" />
<path d="M1696.8,1020 L1702.4,1008.6 L1708,1020 M1696.8,1036.6 L1702.4,1025.2 L1708,1036.6" fill="none" stroke="#151515" stroke-width="1.0" />
<polygon points="1494.0,601.4 1489.7,611.4 1498.3,611.4" fill="#000"/>
<polygon points="1494.0,792.0 1489.7,782.0 1498.3,782.0" fill="#000"/>
<polygon points="1394.4,682.0 1404.4,677.7 1404.4,686.3" fill="#000"/>
<polygon points="1664.0,682.0 1654.0,677.7 1654.0,686.3" fill="#000"/>
<polygon points="1910.4,601.4 1906.1,611.4 1914.7,611.4" fill="#000"/>
<polygon points="1910.4,838.0 1906.1,828.0 1914.7,828.0" fill="#000"/>
<polygon points="1676.6,771.4 1686.6,767.1 1686.6,775.7" fill="#000"/>
<polygon points="1936.0,771.4 1926.0,767.1 1926.0,775.7" fill="#000"/>
<polygon points="1810.4,850.6 1806.1,860.6 1814.7,860.6" fill="#000"/>
<polygon points="1810.4,1103.0 1806.1,1093.0 1814.7,1093.0" fill="#000"/>
<polygon points="1744.4,1013.0 1754.4,1008.7 1754.4,1017.3" fill="#000"/>
<polygon points="1936.0,1013.0 1926.0,1008.7 1926.0,1017.3" fill="#000"/>
<text x="1479.4" y="683.4" textLength="94.2" lengthAdjust="spacingAndGlyphs" class="lb">Bedroom</text>
<text x="1471.6" y="703.0" textLength="110.4" lengthAdjust="spacingAndGlyphs" class="nm">3.84 x 2.56</text>
<text x="1469.0" y="723.6" textLength="108.0" lengthAdjust="spacingAndGlyphs" class="nm">12'7" x 8'5"</text>
<text x="1734.6" y="726.4" textLength="190.8" lengthAdjust="spacingAndGlyphs" class="lb">Principal Bedroom</text>
<text x="1765.4" y="746.4" textLength="108.6" lengthAdjust="spacingAndGlyphs" class="nm">3.39 x 3.22</text>
<text x="1766.0" y="766.6" textLength="106.0" lengthAdjust="spacingAndGlyphs" class="nm">11'1" x 10'7"</text>
<text x="1802.0" y="963.0" textLength="94.0" lengthAdjust="spacingAndGlyphs" class="lb">Bedroom</text>
<text x="1794.4" y="983.0" textLength="109.6" lengthAdjust="spacingAndGlyphs" class="nm">3.39 x 2.63</text>
<text x="1803.0" y="1003.0" textLength="97.0" lengthAdjust="spacingAndGlyphs" class="nm">11'1" x 8'8"</text>
<circle cx="1786.9" cy="434.4" r="30.3" fill="none" stroke="#161616" stroke-width="2.4"/>
<circle cx="1786.9" cy="434.4" r="30.3" fill="none" stroke="#fff" stroke-width="0.7" stroke-dasharray="2.2 0.9"/>
<path d="M1790.6,402.8 L1809.6,379.5 L1806,409.3" fill="none" stroke="#161616" stroke-width="2.3" stroke-linejoin="miter" stroke-miterlimit="10"/>
<path d="M1790.6,402.8 L1809.6,379.5 L1806,409.3" fill="none" stroke="#fff" stroke-width="0.7" stroke-linejoin="miter"/>
<path d="M1763,414.6 L1731.5,410.8 L1756.6,430.4" fill="none" stroke="#161616" stroke-width="2.3" stroke-linejoin="miter" stroke-miterlimit="10"/>
<path d="M1763,414.6 L1731.5,410.8 L1756.6,430.4" fill="none" stroke="#fff" stroke-width="0.7" stroke-linejoin="miter"/>
<path d="M1817.4,438.4 L1842,457.3 L1811,453" fill="none" stroke="#161616" stroke-width="2.3" stroke-linejoin="miter" stroke-miterlimit="10"/>
<path d="M1817.4,438.4 L1842,457.3 L1811,453" fill="none" stroke="#fff" stroke-width="0.7" stroke-linejoin="miter"/>
<path d="M1767,457.6 L1764,488.4 L1783.4,464.6" fill="none" stroke="#161616" stroke-width="2.3" stroke-linejoin="miter" stroke-miterlimit="10"/>
<path d="M1767,457.6 L1764,488.4 L1783.4,464.6" fill="none" stroke="#fff" stroke-width="0.7" stroke-linejoin="miter"/>
<text x="1806.9" y="372.9" textLength="19.8" lengthAdjust="spacingAndGlyphs" class="cp">N</text>
<text x="1698.3" y="411.9" textLength="25.9" lengthAdjust="spacingAndGlyphs" class="cp">W</text>
<text x="1850.6" y="470.9" textLength="12.2" lengthAdjust="spacingAndGlyphs" class="cp">E</text>
<text x="1751.9" y="512.5" textLength="12.0" lengthAdjust="spacingAndGlyphs" class="cp">S</text>
</svg>
</body></html>
